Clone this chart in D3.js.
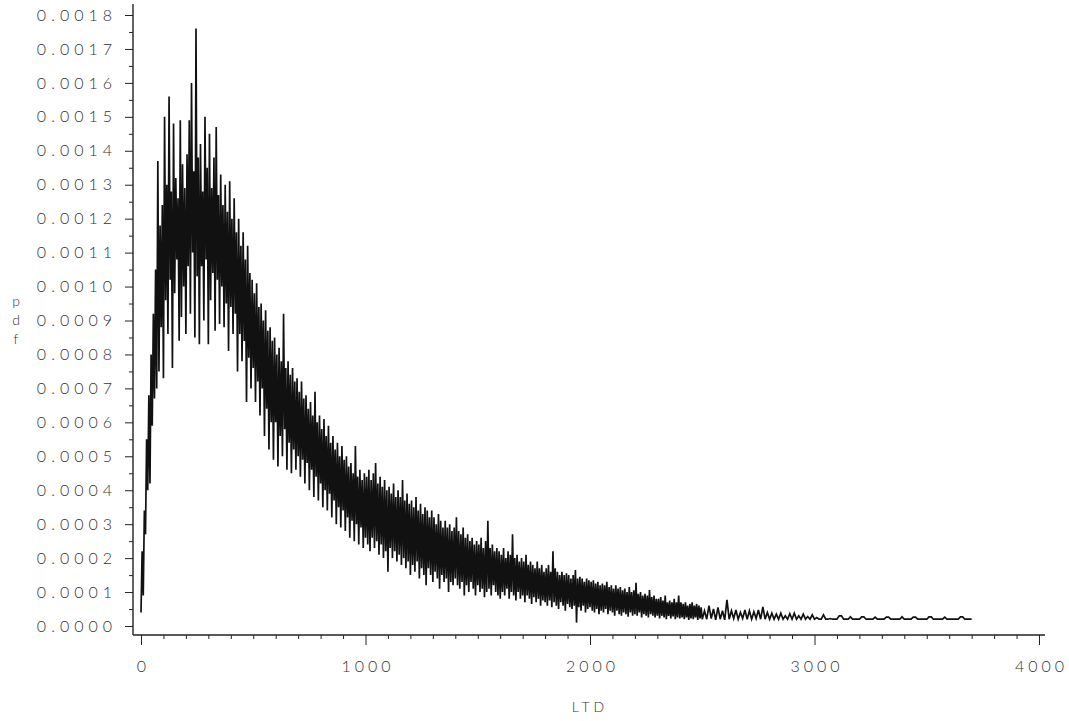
<!DOCTYPE html>
<html>
<head>
<meta charset="utf-8">
<script src="https://cdn.jsdelivr.net/npm/d3@7"></script>
<style>
  body { margin: 0; background: #fff; }
  text { font-family: Lato, "Liberation Sans", sans-serif; font-weight: 300; fill: #333; }
</style>
</head>
<body>
<div id="chart"></div>
<script>
// pdf values in units of 1e-4 on a regular LTD grid per segment
const headStart = 0, headStep = 5;
const pdfHead = [
  0.4, 2.2, 0.9, 3.4, 2.7, 5.5, 4.0, 6.8, 4.2, 8.0,
  5.9, 9.2, 6.7, 10.5, 7.0, 13.7, 7.5, 11.8, 8.8, 12.4,
  7.3, 15.0, 9.6, 13.0, 8.6, 15.6, 10.2, 12.8, 7.6, 14.8,
  9.8, 13.2, 10.8, 12.6, 8.4, 14.9, 9.1, 13.6, 10.0, 12.9,
  8.6, 13.9, 10.6, 14.9, 9.2, 16.0, 11.0, 13.4, 8.5, 17.6,
  10.3, 13.8, 8.3, 14.2, 10.6, 12.8, 9.0, 15.0, 10.8, 13.5,
  8.3, 14.5, 9.6, 12.9, 10.4, 13.8, 8.7, 14.7, 10.2, 12.7,
  8.9, 13.3, 10.0, 12.4, 8.8, 13.0, 9.5, 12.2, 8.1, 13.1,
  9.4, 12.0, 8.6, 12.6, 9.2, 11.6, 7.5, 12.0, 8.6, 11.2,
  7.8, 11.6, 8.4, 10.8, 6.6, 11.2, 7.9, 10.4, 7.0, 10.2,
  7.6, 9.8, 6.6, 10.1, 7.2, 9.4, 6.2, 9.5, 7.0, 9.0,
  5.6, 9.3, 6.4, 8.7, 5.2, 8.8, 6.0, 8.4, 4.9, 8.5,
  6.0, 8.0, 4.7, 8.2, 5.6, 7.8, 5.0, 9.2, 5.8, 7.6,
  4.6, 7.8, 5.4, 7.4, 4.5, 7.6, 5.2, 7.2, 4.6, 7.3,
  5.0, 6.9, 4.4, 7.2, 4.9, 6.7, 4.2, 6.8, 4.8, 6.4,
  4.0, 6.6, 4.6, 6.2, 3.8, 6.9, 4.4, 6.0, 3.7, 6.2,
  4.2, 5.8, 3.5, 6.1, 4.0, 5.6, 3.4, 5.9, 3.9, 5.4,
  3.2, 5.6, 3.7, 5.2, 3.0, 5.4, 3.5, 5.0, 2.9, 5.3,
  3.4, 4.9, 2.8, 5.0, 3.2, 4.7, 2.6, 4.8, 3.1, 4.5,
  2.5, 5.3, 3.0, 4.4, 2.4, 4.6, 2.9, 4.3, 2.3, 4.5,
  2.6
];
const midStart = 1005, midStep = 5;
const pdfMid = [
  4.4, 2.4, 4.6, 2.2, 4.3, 2.6, 4.5, 2.3, 4.8, 2.5,
  4.2, 2.1, 4.4, 2.4, 4.1, 2.0, 4.3, 2.2, 4.0, 1.6,
  4.1, 2.3, 3.9, 2.0, 4.2, 2.2, 3.8, 1.9, 4.0, 2.1,
  3.8, 1.8, 4.3, 2.0, 3.7, 1.7, 3.9, 1.9, 3.6, 1.5,
  3.7, 1.8, 3.5, 1.6, 3.8, 1.9, 3.4, 1.4, 3.6, 1.7,
  3.3, 1.5, 3.5, 1.2, 3.4, 1.7, 3.2, 1.5, 3.4, 1.3,
  3.2, 1.6, 3.0, 1.4, 3.3, 1.1, 3.1, 1.5, 2.9, 1.3,
  3.1, 1.4, 2.9, 1.0, 3.0, 1.3, 2.8, 1.2, 2.9, 1.4,
  3.2, 1.2, 2.8, 1.1, 2.7, 1.3, 2.9, 0.9, 2.6, 1.2,
  2.7, 1.0, 2.5, 1.3, 2.6, 1.1, 2.4, 0.9, 2.5, 1.2,
  2.4, 1.0, 2.6, 1.1, 2.3, 0.85, 2.5, 1.0, 3.1, 1.1,
  2.3, 0.9, 2.4, 1.2, 2.2, 1.0, 2.3, 0.9, 2.2, 0.8,
  2.1, 1.0, 2.3, 0.9, 2.0, 1.1, 2.2, 0.8, 2.1, 1.0,
  2.7, 0.9, 2.0, 0.75, 2.1, 1.0, 1.9, 0.8, 2.0, 0.9,
  1.9, 0.7, 2.1, 0.9, 1.8, 0.8, 1.9, 0.65, 1.8, 0.85,
  1.7, 0.7, 1.9, 0.8, 1.7, 0.6, 1.8, 0.75, 1.6, 0.7,
  1.7, 0.6, 1.8, 0.75, 1.6, 0.55, 2.2, 0.7, 1.7, 0.6,
  1.6, 0.5, 1.5, 0.7, 1.6, 0.6, 1.5, 0.45, 1.55, 0.65,
  1.5, 0.55, 1.4, 0.5, 1.5, 0.6, 1.65, 0.1, 1.4, 0.55,
  1.45, 0.45, 1.4, 0.6, 1.3, 0.4, 1.4, 0.5, 1.35, 0.55,
  1.3, 0.45, 1.35, 0.4, 1.25, 0.5, 1.3, 0.35, 1.2, 0.45,
  1.25, 0.4, 1.2, 0.5, 1.3, 0.35, 1.15, 0.45, 1.2, 0.4,
  1.1, 0.3, 1.2, 0.45, 1.1, 0.35, 1.15, 0.3, 1.05, 0.4,
  1.1, 0.35, 1.0, 0.27, 1.15, 0.4, 1.0, 0.3, 1.05, 0.35,
  1.27, 0.3, 0.95, 0.4, 1.0, 0.25, 0.9, 0.35, 0.95, 0.3,
  0.9, 0.25, 1.06, 0.35, 0.85, 0.3, 0.9, 0.25, 0.8, 0.3,
  0.8, 0.22, 0.85, 0.3, 0.75, 0.25, 0.9, 0.2, 0.7, 0.3,
  0.75, 0.22, 0.7, 0.28, 0.8, 0.2, 0.7, 0.25, 0.9, 0.22,
  0.7, 0.25, 0.65, 0.2, 0.7, 0.25, 0.6, 0.18, 0.65, 0.22,
  0.7, 0.2, 0.6, 0.25, 0.65, 0.18, 0.6, 0.22, 0.55, 0.2
];
const tailStart = 2510, tailStep = 10;
const pdfTail = [
  0.45, 0.2, 0.6, 0.22, 0.5, 0.18, 0.55, 0.2, 0.45, 0.18,
  0.77, 0.2, 0.45, 0.22, 0.47, 0.2, 0.4, 0.22, 0.47, 0.2,
  0.45, 0.2, 0.42, 0.22, 0.47, 0.2, 0.56, 0.2, 0.4, 0.2,
  0.38, 0.2, 0.35, 0.2, 0.38, 0.2, 0.3, 0.2, 0.36, 0.2,
  0.38, 0.2, 0.3, 0.2, 0.35, 0.2, 0.28, 0.2, 0.33, 0.2,
  0.25, 0.2, 0.2, 0.33, 0.2, 0.2, 0.22, 0.2, 0.2, 0.2,
  0.3, 0.3, 0.2, 0.2, 0.2, 0.27, 0.2, 0.2, 0.2, 0.2,
  0.27, 0.27, 0.2, 0.2, 0.2, 0.2, 0.26, 0.2, 0.2, 0.2,
  0.2, 0.26, 0.26, 0.2, 0.2, 0.2, 0.2, 0.2, 0.27, 0.2,
  0.2, 0.2, 0.2, 0.26, 0.26, 0.2, 0.2, 0.2, 0.2, 0.2,
  0.27, 0.27, 0.2, 0.2, 0.2, 0.2, 0.2, 0.26, 0.2, 0.2,
  0.2, 0.2, 0.2, 0.2, 0.27, 0.27, 0.2, 0.2, 0.2, 0.2
];

const xTicks = [0, 1000, 2000, 3000, 4000];
const yTicks = d3.range(0, 19); // 0.0000 .. 0.0018

const width = 1069, height = 721;

// Build points from the segments
const points = [];
pdfHead.forEach((v, i) => points.push({ltd: headStart + i * headStep, pdf: v}));
pdfMid.forEach((v, i) => points.push({ltd: midStart + i * midStep, pdf: v}));
pdfTail.forEach((v, i) => points.push({ltd: tailStart + i * tailStep, pdf: v}));

const x = d3.scaleLinear().domain([0, 4000]).range([141, 1039]);
const y = d3.scaleLinear().domain([0, 18]).range([626, 15]);

const axisLeftX = 133, axisBottomY = 635;

const svg = d3.select("#chart").append("svg")
    .attr("width", width)
    .attr("height", height);

// Y axis
svg.append("line")
    .attr("x1", axisLeftX).attr("x2", axisLeftX)
    .attr("y1", 4).attr("y2", axisBottomY)
    .attr("stroke", "#222").attr("stroke-width", 1.4);

svg.append("g")
    .attr("transform", `translate(${axisLeftX},0)`)
    .call(d3.axisLeft(y).tickValues(d3.range(0.5, 18, 1)).tickSize(4).tickFormat(""))
    .call(g => g.select(".domain").remove())
    .call(g => g.selectAll("line").attr("stroke", "#222"));

const yAxis = svg.append("g")
    .attr("transform", `translate(${axisLeftX},0)`)
    .call(d3.axisLeft(y).tickValues(yTicks).tickSize(8).tickPadding(8)
        .tickFormat(d => (d / 10000).toFixed(4)))
    .call(g => g.select(".domain").remove());
yAxis.selectAll("line").attr("stroke", "#222");
yAxis.selectAll("text")
    .style("font-size", "16px")
    .style("letter-spacing", "5px")
    .attr("fill", "#333");

// X axis
svg.append("line")
    .attr("x1", axisLeftX).attr("x2", 1045)
    .attr("y1", axisBottomY).attr("y2", axisBottomY)
    .attr("stroke", "#222").attr("stroke-width", 1.4);

svg.append("g")
    .attr("transform", `translate(0,${axisBottomY})`)
    .call(d3.axisBottom(x).tickValues(d3.range(100, 4000, 100).filter(d => d % 1000)).tickSize(4).tickFormat(""))
    .call(g => g.select(".domain").remove())
    .call(g => g.selectAll("line").attr("stroke", "#222"));

const xAxis = svg.append("g")
    .attr("transform", `translate(0,${axisBottomY})`)
    .call(d3.axisBottom(x).tickValues(xTicks).tickSize(10).tickPadding(16)
        .tickFormat(d3.format("d")))
    .call(g => g.select(".domain").remove());
xAxis.selectAll("line").attr("stroke", "#222");
xAxis.selectAll("text")
    .style("font-size", "16px")
    .style("letter-spacing", "4px")
    .attr("dx", "2px")
    .attr("fill", "#333");

// Axis titles
svg.append("text")
    .attr("x", 590)
    .attr("y", 712)
    .attr("text-anchor", "middle")
    .style("font-size", "14px")
    .style("letter-spacing", "4px")
    .text("LTD");

["p", "d", "f"].forEach((ch, i) => {
    svg.append("text")
        .attr("x", 16)
        .attr("y", 306 + i * 19)
        .attr("text-anchor", "middle")
        .style("font-size", "14px")
        .text(ch);
});

// The pdf curve
const line = d3.line()
    .x(d => x(d.ltd))
    .y(d => y(d.pdf));

svg.append("path")
    .datum(points)
    .attr("fill", "none")
    .attr("stroke", "#111")
    .attr("stroke-width", 1.7)
    .attr("d", line);
</script>
</body>
</html>
